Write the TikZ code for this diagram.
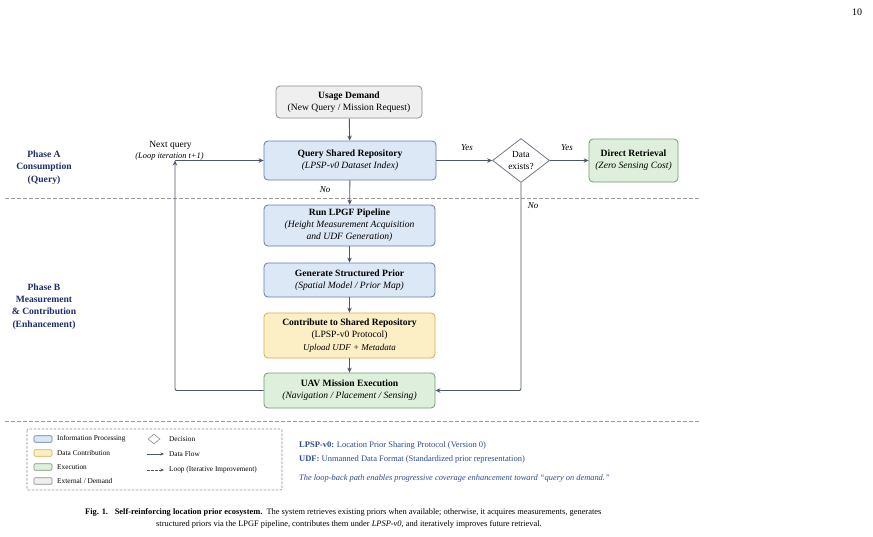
\documentclass[tikz,border=0pt]{standalone}
\usepackage{fontspec}
\setmainfont{Liberation Serif}
\usetikzlibrary{arrows.meta,shapes.geometric}
\definecolor{bfill}{HTML}{DDE8F6}\definecolor{bline}{HTML}{5B7DB3}
\definecolor{yfill}{HTML}{FCEFC6}\definecolor{yline}{HTML}{D6AE4A}
\definecolor{gfill}{HTML}{DEF0DB}\definecolor{gline}{HTML}{6E9E6A}
\definecolor{efill}{HTML}{EFEFEF}\definecolor{eline}{HTML}{8C8C8C}
\definecolor{arrc}{HTML}{4D5766}
\definecolor{navy}{HTML}{1F2D6B}
\definecolor{noteblue}{HTML}{2B4A96}
\definecolor{sepc}{HTML}{9A9A9A}
\begin{document}
\begin{tikzpicture}[x=1pt,y=-1pt,
  box/.style={draw, rounded corners=4pt, line width=0.8pt, align=center, inner sep=0pt,
    font=\fontsize{9.6}{12}\selectfont},
  bluebox/.style={box, fill=bfill, draw=bline},
  yellowbox/.style={box, fill=yfill, draw=yline},
  greenbox/.style={box, fill=gfill, draw=gline},
  graybox/.style={box, fill=efill, draw=eline},
  arr/.style={draw=arrc, line width=0.9pt, -{Stealth[length=5pt,width=4.5pt]}},
  lbl/.style={font=\fontsize{9}{11}\selectfont\itshape, inner sep=0pt},
  phase/.style={font=\fontsize{9.6}{12.3}\selectfont\bfseries, text=navy, align=center, inner sep=0pt},
  sep/.style={draw=sepc, line width=0.7pt, dash pattern=on 3.5pt off 2.5pt},
  swatch/.style={draw, rounded corners=1pt, line width=0.6pt, minimum width=18pt, minimum height=6.5pt, inner sep=0pt},
  legtxt/.style={font=\fontsize{7.3}{9}\selectfont, anchor=west, inner sep=0pt},
  note/.style={font=\fontsize{8.5}{10}\selectfont, anchor=west, inner sep=0pt, text=noteblue},
  captxt/.style={font=\fontsize{8.4}{10}\selectfont, inner sep=0pt}
]
\useasboundingbox (0,0) rectangle (873,536);
\fill[white] (0,0) rectangle (873,536);

\node[font=\fontsize{10}{12}\selectfont, inner sep=0pt] (pgnum) at (857,12) {10};

% separators
\coordinate (s1a) at (5,198); \coordinate (s1b) at (700,198);
\coordinate (s2a) at (5,421); \coordinate (s2b) at (700,421);
\draw[sep] (s1a) -- (s1b);
\draw[sep] (s2a) -- (s2b);

% phase labels
\node[phase] (phA) at (44,167.5) {Phase A\\Consumption\\(Query)};
\node[phase] (phB) at (44,306.5) {Phase B\\Measurement\\\& Contribution\\(Enhancement)};

% nodes
\node[graybox, minimum width=146pt, minimum height=32pt] (usage) at (349,102)
  {\textbf{Usage Demand}\\(New Query / Mission Request)};
\node[bluebox, minimum width=172pt, minimum height=39pt] (query) at (350,160.5)
  {\textbf{Query Shared Repository}\\\textit{(LPSP-v0 Dataset Index)}};
\node[draw=arrc!80, fill=white, line width=0.8pt, shape=diamond, aspect=1.3, inner sep=0pt,
  minimum width=57pt, minimum height=44pt, align=center,
  font=\fontsize{9.3}{11.5}\selectfont] (dia) at (521,160.5) {Data\\exists?};
\node[greenbox, minimum width=89pt, minimum height=43pt] (direct) at (633.5,160.5)
  {\textbf{Direct Retrieval}\\\textit{(Zero Sensing Cost)}};
\node[bluebox, minimum width=171pt, minimum height=41pt] (run) at (349.5,225.5)
  {\textbf{Run LPGF Pipeline}\\\textit{(Height Measurement Acquisition}\\\textit{and UDF Generation)}};
\node[bluebox, minimum width=171pt, minimum height=34pt] (gen) at (349.5,280)
  {\textbf{Generate Structured Prior}\\\textit{(Spatial Model / Prior Map)}};
\node[yellowbox, minimum width=171pt, minimum height=45pt] (contrib) at (349.5,335.5)
  {\textbf{Contribute to Shared Repository}\\(LPSP-v0 Protocol)\\[1pt]\textit{\fontsize{9}{11}\selectfont Upload UDF + Metadata}};
\node[greenbox, minimum width=171pt, minimum height=35pt] (uav) at (349.5,390.5)
  {\textbf{UAV Mission Execution}\\\textit{(Navigation / Placement / Sensing)}};

% connectors
\draw[arr] (usage) -- (query);
\draw[arr] (query) -- (run);
\draw[arr] (run) -- (gen);
\draw[arr] (gen) -- (contrib);
\draw[arr] (contrib) -- (uav);
\draw[arr] (query) -- (dia);
\draw[arr] (dia) -- (direct);
\draw[arr, rounded corners=2pt] (dia.south) |- (uav.east);
\coordinate (lc) at (175,160.5);
\draw[arr, rounded corners=2pt] (uav.west) -| (lc);
\draw[arr] (lc) -- (query.west);

% labels
\node[lbl] (lno1) at (325,190) {No};
\node[lbl] (lyes1) at (467,148) {Yes};
\node[lbl] (lyes2) at (567,148) {Yes};
\node[lbl] (lno2) at (533,206) {No};
\node[font=\fontsize{9.5}{11}\selectfont, inner sep=0pt] (nq) at (170.5,145) {Next query};
\node[lbl, font=\fontsize{8.4}{10}\selectfont\itshape] (li) at (169.5,156.5) {(Loop iteration t+1)};

% legend
\draw[draw=eline, line width=0.6pt, dash pattern=on 2.5pt off 1.5pt, rounded corners=1pt] (27,429) rectangle (282,490);
\node[swatch, fill=bfill, draw=bline] (sw1) at (43,439) {};
\node[swatch, fill=yfill, draw=yline] (sw2) at (43,453) {};
\node[swatch, fill=gfill, draw=gline] (sw3) at (43,467) {};
\node[swatch, fill=efill, draw=eline] (sw4) at (43,481) {};
\node[legtxt] (t1) at (57,439) {Information Processing};
\node[legtxt] (t2) at (57,453) {Data Contribution};
\node[legtxt] (t3) at (57,467) {Execution};
\node[legtxt] (t4) at (57,481) {External / Demand};
\node[draw=eline, line width=0.6pt, shape=diamond, minimum width=12pt, minimum height=10pt, inner sep=0pt] (ld) at (154,439) {};
\node[legtxt] (t5) at (169,439) {Decision};
\coordinate (fa) at (147,454); \coordinate (fb) at (164,454);
\draw[draw=arrc, line width=0.7pt, -{Stealth[length=3.5pt,width=3pt]}] (fa) -- (fb);
\node[legtxt] (t6) at (169,454) {Data Flow};
\coordinate (la) at (147,470); \coordinate (lb) at (164,470);
\draw[draw=arrc, line width=0.7pt, dash pattern=on 2.5pt off 1.5pt, -{Stealth[length=3.5pt,width=3pt]}] (la) -- (lb);
\node[legtxt] (t7) at (169,470) {Loop (Iterative Improvement)};

% notes
\node[note] (n1) at (299,445) {\textbf{LPSP-v0:} Location Prior Sharing Protocol (Version 0)};
\node[note] (n2) at (299,459) {\textbf{UDF:} Unmanned Data Format (Standardized prior representation)};
\node[note, font=\fontsize{8.4}{10}\selectfont\itshape] (n3) at (299,478) {The loop-back path enables progressive coverage enhancement toward “query on demand.”};

% caption
\node[captxt, anchor=west] (c1) at (85,512) {\textbf{Fig. 1.}\hspace{0.8em}\textbf{Self-reinforcing location prior ecosystem.}\hspace{0.5em}The system retrieves existing priors when available; otherwise, it acquires measurements, generates};
\node[captxt] (c2) at (349,524) {structured priors via the LPGF pipeline, contributes them under \textit{LPSP-v0}, and iteratively improves future retrieval.};
\end{tikzpicture}
\end{document}
